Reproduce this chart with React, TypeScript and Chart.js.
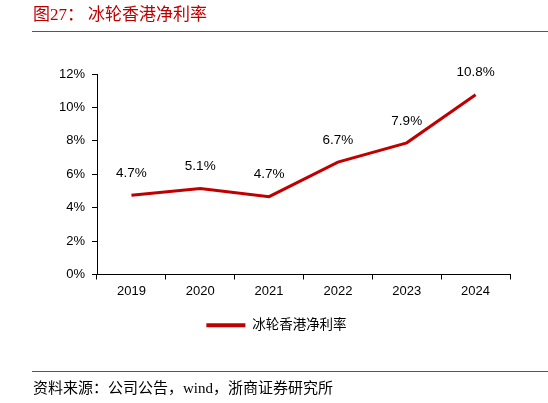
import React, { useEffect, useRef } from 'react';
import Chart, { ChartConfiguration, Plugin } from 'chart.js/auto';

const years = ['2019', '2020', '2021', '2022', '2023', '2024'];
const netMargin = [4.74, 5.15, 4.66, 6.73, 7.88, 10.76];
const marginLabels = ['4.7%', '5.1%', '4.7%', '6.7%', '7.9%', '10.8%'];
const seriesName = '冰轮香港净利率';
const yTicks = [0, 2, 4, 6, 8, 10, 12];

const RED = '#c00000';
const LATIN = '"Liberation Sans", Arial, sans-serif';
const CJK_SERIF = '"Liberation Serif", "Noto Sans CJK SC", serif';

// draws the value above each point
const valueLabels: Plugin<'line'> = {
  id: 'valueLabels',
  afterDatasetsDraw(chart) {
    const { ctx } = chart;
    const meta = chart.getDatasetMeta(0);
    ctx.save();
    ctx.font = `13.5px ${LATIN}`;
    ctx.fillStyle = '#000';
    ctx.textAlign = 'center';
    ctx.textBaseline = 'middle';
    meta.data.forEach((pt, i) => {
      ctx.fillText(marginLabels[i], pt.x, pt.y - 22);
    });
    ctx.restore();
  },
};

const MarginChart: React.FC = () => {
  const chartRef = useRef<Chart<'line'>>();
  const canvasRef = useRef<HTMLCanvasElement>(null);

  useEffect(() => {
    const canvas = canvasRef.current;
    if (!canvas) return;
    if (chartRef.current) chartRef.current.destroy();

    const config: ChartConfiguration<'line'> = {
      type: 'line',
      data: {
        labels: years,
        datasets: [
          {
            label: seriesName,
            data: netMargin,
            borderColor: RED,
            backgroundColor: RED,
            borderWidth: 3,
            pointRadius: 0,
            tension: 0,
          },
        ],
      },
      options: {
        responsive: false,
        animation: false,
        layout: { padding: { left: 43, right: 38, top: 74, bottom: 61 } },
        plugins: {
          tooltip: { enabled: false },
          legend: {
            position: 'bottom',
            labels: {
              boxWidth: 39,
              boxHeight: 4,
              padding: 10,
              color: '#000',
              font: { size: 13.5, family: CJK_SERIF },
              // flat bar, no outline around the box
              generateLabels: (chart) =>
                Chart.defaults.plugins.legend.labels
                  .generateLabels(chart)
                  .map((item) => ({ ...item, lineWidth: 0 })),
            },
          },
        },
        scales: {
          x: {
            offset: true,
            afterFit: (scale) => {
              scale.height = 34;
            },
            grid: {
              offset: true,
              drawOnChartArea: false,
              drawTicks: true,
              tickLength: 5,
              color: '#000',
            },
            border: { color: '#000', width: 1 },
            ticks: {
              color: '#000',
              padding: 4,
              maxRotation: 0,
              font: { size: 13, family: LATIN },
            },
          },
          y: {
            min: 0,
            max: 12,
            afterFit: (scale) => {
              scale.width = 54;
            },
            afterBuildTicks: (scale) => {
              scale.ticks = yTicks.map((v) => ({ value: v }));
            },
            grid: {
              drawOnChartArea: false,
              drawTicks: true,
              tickLength: 5,
              color: '#000',
            },
            border: { color: '#000', width: 1 },
            ticks: {
              color: '#000',
              padding: 7,
              font: { size: 13, family: LATIN },
              callback: (v) => `${v}%`,
            },
          },
        },
      },
      plugins: [valueLabels],
    };

    chartRef.current = new Chart(canvas, config);

    return () => {
      if (chartRef.current) {
        chartRef.current.destroy();
        chartRef.current = undefined;
      }
    };
  }, []);

  return <canvas ref={canvasRef} width={548} height={403} style={{ position: 'absolute', left: 0, top: 0 }} />;
};

const App: React.FC = () => {
  return (
    <div
      style={{
        position: 'fixed',
        left: 0,
        top: 0,
        width: 548,
        height: 403,
        background: '#fff',
        overflow: 'hidden',
      }}
    >
      <MarginChart />
      <div
        style={{
          position: 'absolute',
          left: 33,
          top: 5,
          fontSize: 17,
          lineHeight: '20px',
          color: RED,
          fontFamily: CJK_SERIF,
          whiteSpace: 'nowrap',
        }}
      >
        图27：<span style={{ marginLeft: 4 }}>冰轮香港净利率</span>
      </div>
      <div style={{ position: 'absolute', left: 32, right: 0, top: 31, height: 1, background: '#cc2229' }} />
      <div style={{ position: 'absolute', left: 32, right: 0, top: 371, height: 1, background: '#cc2229' }} />
      <div
        style={{
          position: 'absolute',
          left: 33,
          top: 379,
          fontSize: 15,
          lineHeight: '18px',
          color: '#000',
          fontFamily: CJK_SERIF,
          whiteSpace: 'nowrap',
        }}
      >
        资料来源：公司公告，wind，浙商证券研究所
      </div>
    </div>
  );
};

export default App;
